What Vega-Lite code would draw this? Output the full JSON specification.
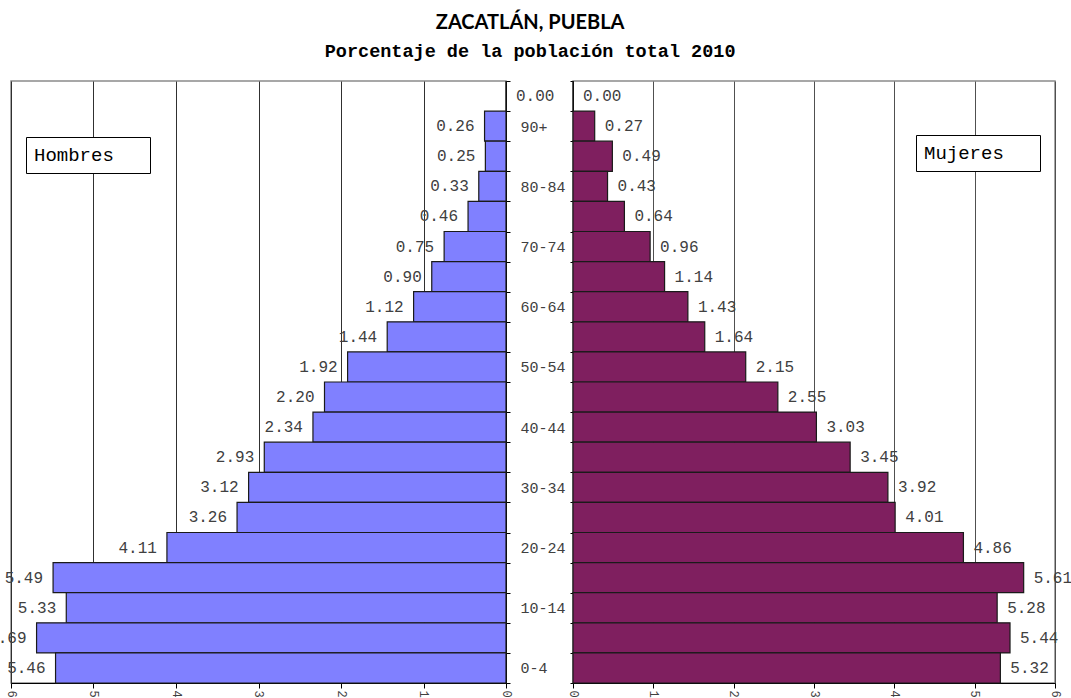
{
  "$schema": "https://vega.github.io/schema/vega-lite/v6.json",
  "background": "white",
  "padding": {"left": -13, "top": 12, "right": 0, "bottom": 0},
  "title": {
    "text": "ZACATLÁN, PUEBLA",
    "subtitle": "Porcentaje de la población total 2010",
    "anchor": "middle",
    "font": "Lato",
    "fontSize": 20,
    "fontWeight": "bold",
    "color": "#000000",
    "subtitleFont": "Liberation Mono",
    "subtitleFontSize": 18.5,
    "subtitleFontWeight": "bold",
    "subtitleColor": "#000000",
    "subtitlePadding": 9,
    "offset": 13
  },
  "datasets": {
    "pop": [
      {"edad": "No especificado", "sexo": "Hombres", "pct": 0.00},
      {"edad": "90+", "sexo": "Hombres", "pct": 0.26},
      {"edad": "85-89", "sexo": "Hombres", "pct": 0.25},
      {"edad": "80-84", "sexo": "Hombres", "pct": 0.33},
      {"edad": "75-79", "sexo": "Hombres", "pct": 0.46},
      {"edad": "70-74", "sexo": "Hombres", "pct": 0.75},
      {"edad": "65-69", "sexo": "Hombres", "pct": 0.90},
      {"edad": "60-64", "sexo": "Hombres", "pct": 1.12},
      {"edad": "55-59", "sexo": "Hombres", "pct": 1.44},
      {"edad": "50-54", "sexo": "Hombres", "pct": 1.92},
      {"edad": "45-49", "sexo": "Hombres", "pct": 2.20},
      {"edad": "40-44", "sexo": "Hombres", "pct": 2.34},
      {"edad": "35-39", "sexo": "Hombres", "pct": 2.93},
      {"edad": "30-34", "sexo": "Hombres", "pct": 3.12},
      {"edad": "25-29", "sexo": "Hombres", "pct": 3.26},
      {"edad": "20-24", "sexo": "Hombres", "pct": 4.11},
      {"edad": "15-19", "sexo": "Hombres", "pct": 5.49},
      {"edad": "10-14", "sexo": "Hombres", "pct": 5.33},
      {"edad": "5-9", "sexo": "Hombres", "pct": 5.69},
      {"edad": "0-4", "sexo": "Hombres", "pct": 5.46},
      {"edad": "No especificado", "sexo": "Mujeres", "pct": 0.00},
      {"edad": "90+", "sexo": "Mujeres", "pct": 0.27},
      {"edad": "85-89", "sexo": "Mujeres", "pct": 0.49},
      {"edad": "80-84", "sexo": "Mujeres", "pct": 0.43},
      {"edad": "75-79", "sexo": "Mujeres", "pct": 0.64},
      {"edad": "70-74", "sexo": "Mujeres", "pct": 0.96},
      {"edad": "65-69", "sexo": "Mujeres", "pct": 1.14},
      {"edad": "60-64", "sexo": "Mujeres", "pct": 1.43},
      {"edad": "55-59", "sexo": "Mujeres", "pct": 1.64},
      {"edad": "50-54", "sexo": "Mujeres", "pct": 2.15},
      {"edad": "45-49", "sexo": "Mujeres", "pct": 2.55},
      {"edad": "40-44", "sexo": "Mujeres", "pct": 3.03},
      {"edad": "35-39", "sexo": "Mujeres", "pct": 3.45},
      {"edad": "30-34", "sexo": "Mujeres", "pct": 3.92},
      {"edad": "25-29", "sexo": "Mujeres", "pct": 4.01},
      {"edad": "20-24", "sexo": "Mujeres", "pct": 4.86},
      {"edad": "15-19", "sexo": "Mujeres", "pct": 5.61},
      {"edad": "10-14", "sexo": "Mujeres", "pct": 5.28},
      {"edad": "5-9", "sexo": "Mujeres", "pct": 5.44},
      {"edad": "0-4", "sexo": "Mujeres", "pct": 5.32}
    ]
  },
  "data": {"name": "pop"},
  "config": {
    "view": {"stroke": "#8a8a8a", "strokeWidth": 1.5},
    "axis": {
      "labelFont": "Liberation Mono",
      "labelColor": "#404040",
      "domainColor": "#000000",
      "tickColor": "#000000",
      "gridColor": "#303030",
      "gridOpacity": 1
    }
  },
  "bounds": "flush",
  "spacing": 67,
  "resolve": {"scale": {"color": "independent", "x": "independent", "y": "independent"}},
  "hconcat": [
    {
      "width": 495,
      "height": 602,
      "transform": [{"filter": "datum.sexo === 'Hombres'"}],
      "encoding": {
        "y": {
          "field": "edad",
          "type": "nominal",
          "sort": ["No especificado", "90+", "85-89", "80-84", "75-79", "70-74", "65-69", "60-64", "55-59", "50-54", "45-49", "40-44", "35-39", "30-34", "25-29", "20-24", "15-19", "10-14", "5-9", "0-4"],
          "scale": {"paddingInner": 0, "paddingOuter": 0},
          "axis": {
            "orient": "right",
            "title": null,
            "tickBand": "extent",
            "tickSize": 4,
            "labelAlign": "left",
            "labelPadding": 10,
            "labelFontSize": 15,
            "labelExpr": "indexof(['90+','80-84','70-74','60-64','50-54','40-44','30-34','20-24','10-14','0-4'], datum.label) >= 0 ? datum.label : ''"
          }
        },
        "x": {
          "field": "pct",
          "type": "quantitative",
          "scale": {"domain": [0, 6], "reverse": true, "nice": false},
          "axis": {
            "title": null,
            "values": [0, 1, 2, 3, 4, 5, 6],
            "labelAngle": 90,
            "labelFontSize": 12,
            "labelAlign": "left",
            "labelBaseline": "middle",
            "tickSize": 5,
            "grid": true
          }
        }
      },
      "layer": [
        {
          "mark": {"type": "bar", "stroke": "#1a1a1a", "strokeWidth": 1.2, "opacity": 1},
          "encoding": {
            "color": {
              "field": "sexo",
              "type": "nominal",
              "scale": {"domain": ["Hombres"], "range": ["#8080FF"]},
              "legend": {
                "orient": "none",
                "legendX": 15,
                "legendY": 56,
                "title": null,
                "symbolSize": 0,
                "symbolStrokeWidth": 0,
                "symbolOpacity": 0,
                "labelOffset": -19,
                "labelFont": "Liberation Mono",
                "labelFontSize": 19,
                "labelColor": "#000000",
                "labelExpr": "datum.label + '\u2800\u2800'",
                "strokeColor": "#000000",
                "fillColor": "#ffffff",
                "padding": 8
              }
            }
          }
        },
        {
          "transform": [{"filter": "datum.pct > 0"}],
          "mark": {"type": "text", "align": "right", "baseline": "middle", "dx": -10, "font": "Liberation Mono", "fontSize": 16, "color": "#404040"},
          "encoding": {"text": {"field": "pct", "type": "quantitative", "format": ".2f"}}
        },
        {
          "transform": [{"filter": "datum.pct == 0"}],
          "mark": {"type": "text", "align": "left", "baseline": "middle", "dx": 10, "font": "Liberation Mono", "fontSize": 16, "color": "#404040"},
          "encoding": {"text": {"field": "pct", "type": "quantitative", "format": ".2f"}}
        }
      ]
    },
    {
      "width": 482,
      "height": 602,
      "transform": [{"filter": "datum.sexo === 'Mujeres'"}],
      "encoding": {
        "y": {
          "field": "edad",
          "type": "nominal",
          "sort": ["No especificado", "90+", "85-89", "80-84", "75-79", "70-74", "65-69", "60-64", "55-59", "50-54", "45-49", "40-44", "35-39", "30-34", "25-29", "20-24", "15-19", "10-14", "5-9", "0-4"],
          "scale": {"paddingInner": 0, "paddingOuter": 0},
          "axis": {
            "orient": "left",
            "title": null,
            "tickBand": "extent",
            "tickSize": 3,
            "labels": false
          }
        },
        "x": {
          "field": "pct",
          "type": "quantitative",
          "scale": {"domain": [0, 6], "nice": false},
          "axis": {
            "title": null,
            "values": [0, 1, 2, 3, 4, 5, 6],
            "labelAngle": 90,
            "labelFontSize": 12,
            "labelAlign": "left",
            "labelBaseline": "middle",
            "tickSize": 5,
            "grid": true,
            "gridColor": "#505050"
          }
        }
      },
      "layer": [
        {
          "mark": {"type": "bar", "stroke": "#1a1a1a", "strokeWidth": 1.2, "opacity": 1},
          "encoding": {
            "color": {
              "field": "sexo",
              "type": "nominal",
              "scale": {"domain": ["Mujeres"], "range": ["#7F1F5F"]},
              "legend": {
                "orient": "none",
                "legendX": 343,
                "legendY": 54,
                "title": null,
                "symbolSize": 0,
                "symbolStrokeWidth": 0,
                "symbolOpacity": 0,
                "labelOffset": -19,
                "labelFont": "Liberation Mono",
                "labelFontSize": 19,
                "labelColor": "#000000",
                "labelExpr": "datum.label + '\u2800\u2800'",
                "strokeColor": "#000000",
                "fillColor": "#ffffff",
                "padding": 8
              }
            }
          }
        },
        {
          "mark": {"type": "text", "align": "left", "baseline": "middle", "dx": 10, "font": "Liberation Mono", "fontSize": 16, "color": "#404040"},
          "encoding": {"text": {"field": "pct", "type": "quantitative", "format": ".2f"}}
        }
      ]
    }
  ]
}
